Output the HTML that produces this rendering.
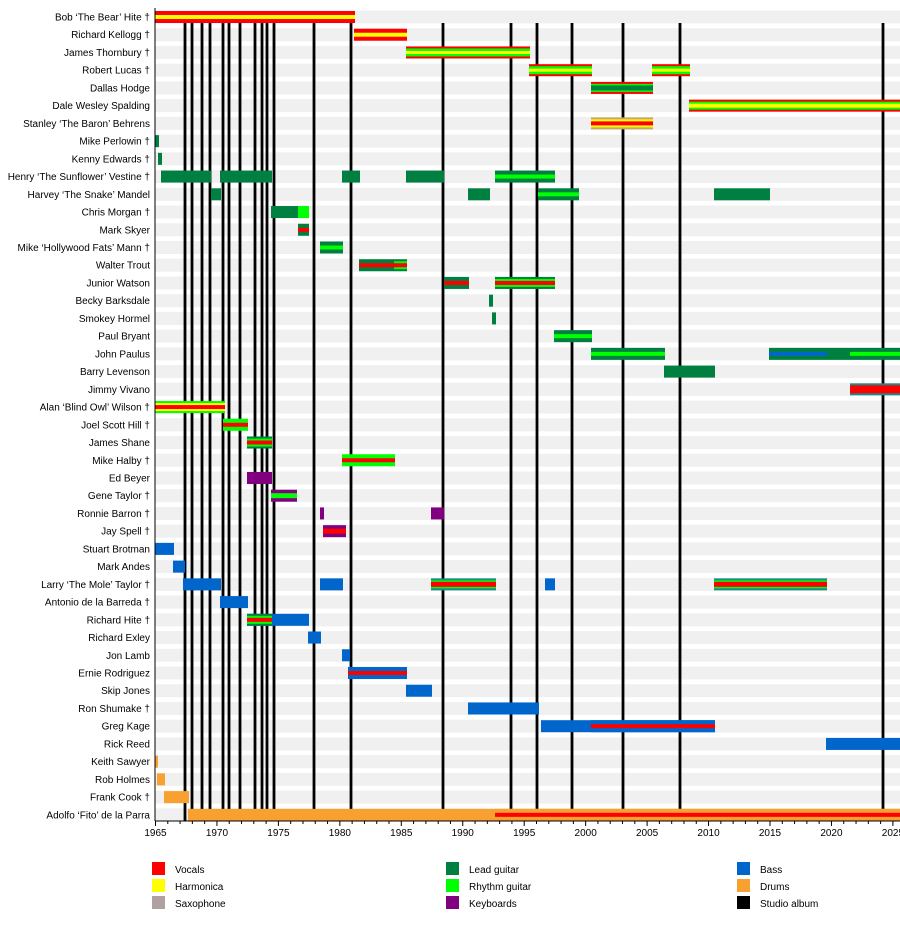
<!DOCTYPE html>
<html><head><meta charset="utf-8"><style>
html,body{margin:0;padding:0;background:#fff;}
svg{display:block;font-family:"Liberation Sans",sans-serif;}
</style></head><body>
<svg id="s" width="900" height="940" xmlns="http://www.w3.org/2000/svg"></svg>
<script>
const R='#ff0000',Y='#ffff00',S='#b0a0a0',L='#008040',G='#00ff00',K='#800080',B='#0066cc',D='#f8a030',T='#1a8a8a',O='#c8a860';
const names=["Bob ‘The Bear’ Hite †","Richard Kellogg †","James Thornbury †","Robert Lucas †","Dallas Hodge","Dale Wesley Spalding","Stanley ‘The Baron’ Behrens","Mike Perlowin †","Kenny Edwards †","Henry ‘The Sunflower’ Vestine †","Harvey ‘The Snake’ Mandel","Chris Morgan †","Mark Skyer","Mike ‘Hollywood Fats’ Mann †","Walter Trout","Junior Watson","Becky Barksdale","Smokey Hormel","Paul Bryant","John Paulus","Barry Levenson","Jimmy Vivano","Alan ‘Blind Owl’ Wilson †","Joel Scott Hill †","James Shane","Mike Halby †","Ed Beyer","Gene Taylor †","Ronnie Barron †","Jay Spell †","Stuart Brotman","Mark Andes","Larry ‘The Mole’ Taylor †","Antonio de la Barreda †","Richard Hite †","Richard Exley","Jon Lamb","Ernie Rodriguez","Skip Jones","Ron Shumake †","Greg Kage","Rick Reed","Keith Sawyer","Rob Holmes","Frank Cook †","Adolfo ‘Fito’ de la Parra"];
const RY=[[R,12],[Y,4]], RGY=[[R,12],[G,8],[Y,3]], LG=[[L,12],[G,4]], RL=[[L,12],[R,4]], RLG=[[L,12],[G,8],[R,4]];
const bars=[
[0,155,355,RY],[1,354,407,RY],[2,406,530,RGY],[3,529,592,RGY],[3,652,690,RGY],
[4,591,653,[[R,12],[G,8],[L,5]]],[5,689,900,[[R,12],[G,8],[Y,4]]],[6,591,653,[[O,12],[Y,8],[R,4]]],
[7,155,159,[[L,12]]],[8,158,162,[[L,12]]],
[9,161,211,[[L,12]]],[9,220,272,[[L,12]]],[9,342,360,[[L,12]]],[9,406,444,[[L,12]]],[9,495,555,LG],
[10,211,221,[[L,12]]],[10,468,490,[[L,12]]],[10,538,579,LG],[10,714,770,[[L,12]]],
[11,271,298,[[L,12]]],[11,298,309,[[G,12]]],[12,298,309,RL],[13,320,343,LG],
[14,359,394,RL],[14,394,407,RLG],[15,444,469,RL],[15,495,555,RLG],
[16,489,493,[[L,12]]],[17,492,496,[[L,12]]],[18,554,592,LG],
[19,591,665,LG],[19,769,827,[[L,12],[B,4]]],[19,827,850,[[L,12]]],[19,850,900,LG],
[20,664,715,[[L,12]]],[21,850,900,[[T,12],[R,8]]],
[22,155,225,[[G,12],[Y,8],[R,4]]],[23,223,248,[[G,12],[R,4]]],[24,247,272,RLG],[25,342,395,[[G,12],[R,4]]],
[26,247,272,[[K,12]]],[27,271,297,[[K,12],[G,5]]],[28,320,324,[[K,12]]],[28,431,444,[[K,12]]],[29,323,346,[[K,12],[R,5]]],
[30,155,174,[[B,12]]],[31,173,185,[[B,12]]],
[32,183,221,[[B,12]]],[32,320,343,[[B,12]]],[32,431,496,[[T,12],[G,8],[R,5]]],[32,545,555,[[B,12]]],[32,714,827,[[T,12],[G,8],[R,5]]],
[33,220,248,[[B,12]]],[34,247,309,[[B,12]]],[34,247,272,RLG],[35,308,321,[[B,12]]],[36,342,350,[[B,12]]],
[37,348,407,[[B,12],[R,4]]],[38,406,432,[[B,12]]],[39,468,539,[[B,12]]],[40,541,715,[[B,12]]],[40,591,715,[[B,12],[R,4]]],
[41,826,900,[[B,12]]],[42,155,158,[[D,12]]],[43,157,165,[[D,12]]],[44,164,189,[[D,12]]],
[45,188,900,[[D,12]]],[45,495,900,[[D,12],[R,4]]]
];
const albums=[185,192,202,210,223,229,240,255,262,267,274,314,351,443,511,537,572,623,680,883];
const rowY=i=>17+i*17.73;
let h='';
for(let i=0;i<46;i++){const y=rowY(i);
 h+=`<rect x="155" y="${y-6.5}" width="745" height="13" fill="#f0f0f0"/>`;
 h+=`<text x="150" y="${y+3.5}" font-size="10" text-anchor="end" fill="#000">${names[i]}</text>`;}
for(const a of albums) h+=`<rect x="${a-1.4}" y="23" width="2.8" height="798" fill="#000"/>`;
for(const [r,x1,x2,ls] of bars){const y=rowY(r);
 for(const [c,hh] of ls) h+=`<rect x="${x1}" y="${y-hh/2}" width="${x2-x1}" height="${hh}" fill="${c}"/>`;}
h+=`<line x1="155" y1="8" x2="155" y2="821" stroke="#000" stroke-width="1"/>`;
h+=`<line x1="155" y1="821" x2="900" y2="821" stroke="#000" stroke-width="1"/>`;
const px=yr=>155.5+(yr-1965)*12.29;
for(let yr=1965;yr<=2025;yr++){const x=px(yr);const maj=yr%5==0;
 h+=`<line x1="${x}" y1="821" x2="${x}" y2="${maj?826:824}" stroke="#000" stroke-width="1"/>`;
 if(maj)h+=`<text x="${x}" y="836" font-size="10" text-anchor="middle">${yr}</text>`;}
const leg=[[152,862,R,'Vocals'],[152,879,Y,'Harmonica'],[152,896,S,'Saxophone'],[446,862,L,'Lead guitar'],[446,879,G,'Rhythm guitar'],[446,896,K,'Keyboards'],[737,862,B,'Bass'],[737,879,D,'Drums'],[737,896,'#000','Studio album']];
for(const [x,y,c,t] of leg){h+=`<rect x="${x}" y="${y}" width="13" height="13" fill="${c}"/><text x="${x+23}" y="${y+11}" font-size="10">${t}</text>`;}
document.getElementById('s').innerHTML=h;
</script>
</body></html>
